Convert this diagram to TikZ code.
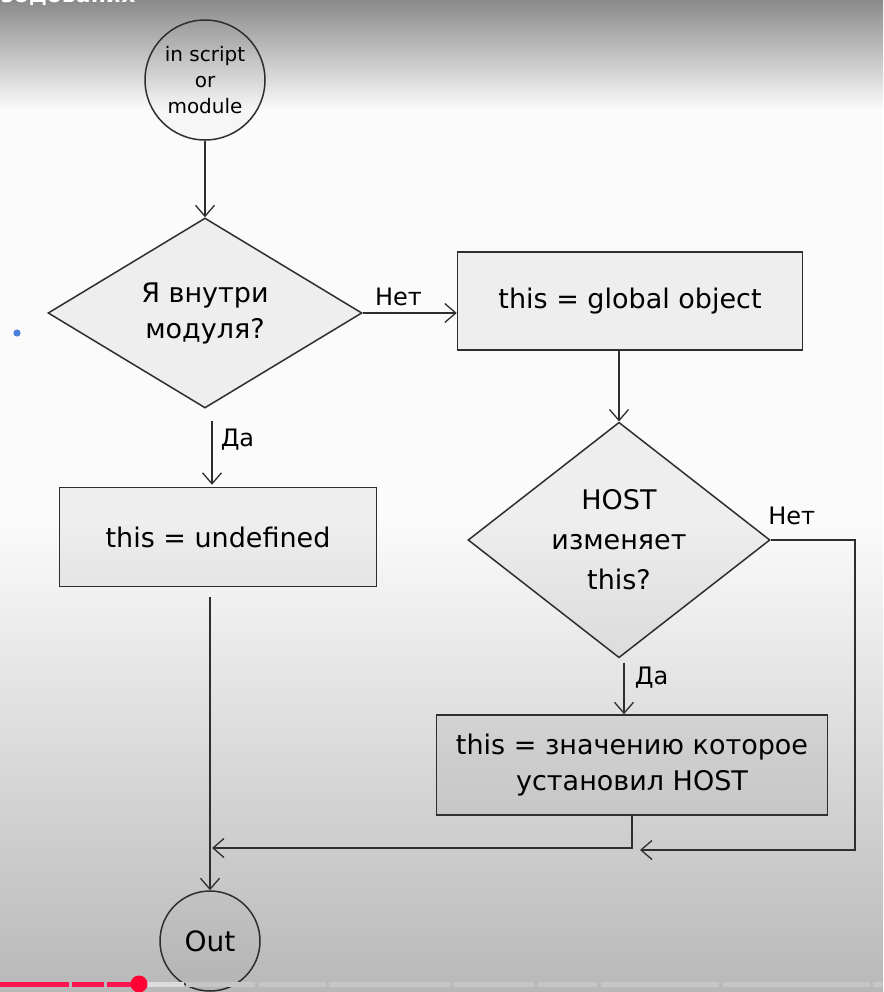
\documentclass[tikz,border=0pt]{standalone}
\usepackage{fontspec}
\setmainfont{DejaVu Sans}
\usetikzlibrary{shapes.geometric,arrows.meta,calc}
\definecolor{ink}{HTML}{2E2E2E}
\definecolor{bgtop}{HTML}{8A8A8A}
\definecolor{bgw}{HTML}{FBFBFB}
\definecolor{bgbot}{HTML}{B8B8B8}
\definecolor{ytred}{HTML}{FF1452}
\definecolor{ytdot}{HTML}{FF0033}
\definecolor{ytgray}{HTML}{C6C6C6}
\definecolor{ytbuf}{HTML}{DCDCDC}
\definecolor{bluedot}{HTML}{4A7FDB}
\newcommand\fsmain{\fontsize{27}{36}\selectfont}
\newcommand\fsbig{\fontsize{27}{40}\selectfont}
\newcommand\fscirc{\fontsize{20}{26}\selectfont}
\newcommand\fslbl{\fontsize{24}{26}\selectfont}
\begin{document}
\begin{tikzpicture}[x=1pt,y=-1pt,
  inkst/.style={draw=ink,line width=1.5pt},
  shapefill/.style={inkst,fill=black,fill opacity=0.05,text opacity=1,inner sep=0pt,align=center,text=black},
  boxst/.style={shapefill,rectangle,font=\fsmain},
  diast/.style={shapefill,diamond,font=\fsmain},
  circst/.style={shapefill,circle,fill opacity=0.02},
  arr/.style={inkst,-{Straight Barb[length=11pt,width=19pt,line width=1.3pt]}},
  lbl/.style={font=\fslbl,text=black,inner sep=2pt}
]
\useasboundingbox (0,0) rectangle (883,992);
% background (video frame)
\shade[top color=bgtop,bottom color=bgw] (0,0) rectangle (883,110);
\fill[bgw] (0,110) rectangle (883,520);
\shade[top color=bgw,bottom color=bgbot] (0,520) rectangle (883,992);
\node[anchor=base west,text=white,font=\fontsize{22}{22}\selectfont\bfseries,inner sep=0pt] (ttl) at (1,3) {зодованих};

% nodes
\node[circst,minimum size=120pt,font=\fscirc] (start) at (205,80) {in script\\or\\module};
\node[diast,minimum width=314pt,minimum height=190pt] (d1) at (205,313) {Я внутри\\модуля?};
\node[boxst,minimum width=345pt,minimum height=98pt] (b1) at (630,301) {this = global object};
\node[diast,minimum width=302pt,minimum height=230pt,font=\fsbig] (d2) at (619,540) {HOST\\изменяет\\this?};
\node[boxst,minimum width=317pt,minimum height=99pt] (b2) at (218,537) {this = undefined};
\node[boxst,minimum width=391pt,minimum height=100pt] (b3) at (632,765) {this = значению которое\\установил HOST};
\node[circst,minimum size=100pt,font=\fontsize{28}{30}\selectfont] (out) at (210,941) {Out};

\coordinate (rc) at (855,540);
\coordinate (jn) at (640,850);
\coordinate (jo) at (212,848);

% connectors
\draw[arr] (start) -- (d1);
\draw[arr] (d1.east) -- node[lbl,pos=0.38,above=4pt] {Нет} (d1.east -| b1.west);
\draw[arr] (b1.south -| d2.north) -- (d2.north);
\draw[arr] ($(d1.south)+(7,12)$) -- ($(d1.south |- b2.north)+(7,-2)$) node[lbl,pos=0.3,right=6pt] {Да};
\draw[arr] ($(d2.south)+(5,4)$) -- ($(d2.south |- b3.north)+(5,0)$) node[lbl,pos=0.3,right=8pt] {Да};
\draw[arr] (d2.east) -- node[lbl,pos=0.25,above=12pt] {Нет} (rc) |- (jn);
\draw[arr] (b3.south) |- (jo);
\draw[arr] ($(b2.south -| out.north)+(0,10)$) -- (out.north);

% video player overlay
\fill[bluedot] (17,333) circle (3.6pt);
\fill[ytred] (0,982) rectangle (69,987);
\fill[ytred] (72,982) rectangle (104,987);
\fill[ytred] (107,982) rectangle (138,987);
\fill[ytbuf] (138,982) rectangle (184,987);
\foreach \a/\b in {186/255,259/326,329/451,454/534,538/597,601/719,723/870,873/883}
  \fill[ytgray] (\a,982) rectangle (\b,987);
\fill[ytdot] (139,984) circle (8.5pt);
\end{tikzpicture}
\end{document}
